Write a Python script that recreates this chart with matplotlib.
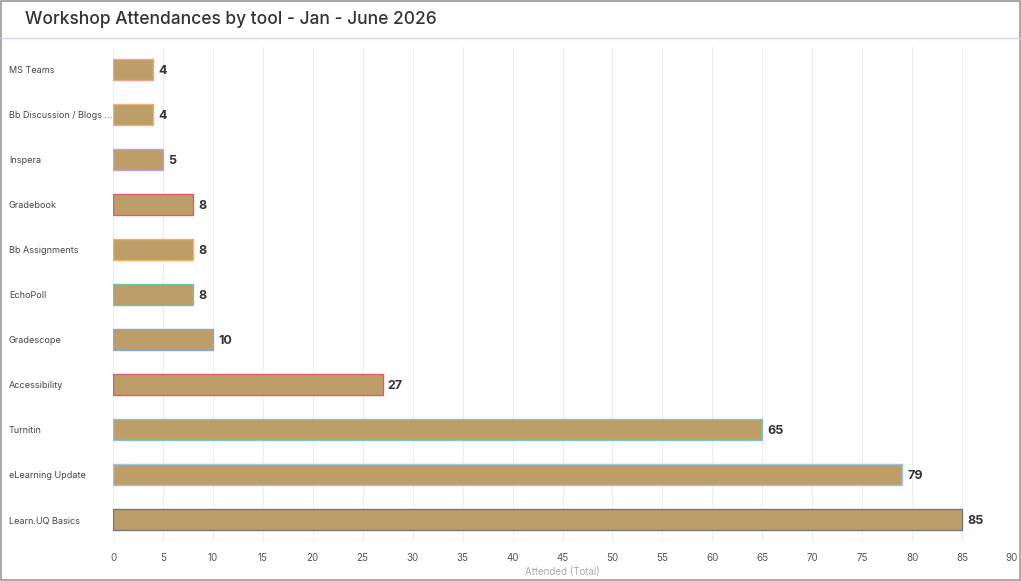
import matplotlib
matplotlib.use("Agg")
import matplotlib.pyplot as plt
from matplotlib.patches import Rectangle
from matplotlib.lines import Line2D

TOOLS = ["MS Teams", "Bb Discussion / Blogs ...", "Inspera", "Gradebook", "Bb Assignments",
         "EchoPoll", "Gradescope", "Accessibility", "Turnitin", "eLearning Update", "Learn.UQ Basics"]
ATTENDED = [4, 4, 5, 8, 8, 8, 10, 27, 65, 79, 85]
EDGE_COLORS = ["#f4a08a", "#e8b56a", "#b9a3e3", "#e05a6a", "#f0b060", "#6cc7a0",
               "#8aa4d8", "#e05a6a", "#7fc8c8", "#9cc4e8", "#777777"]
BAR_COLOR = "#be9e68"

plt.rcParams["font.family"] = ["Inter", "DejaVu Sans"]

fig = plt.figure(figsize=(10.21, 5.81), dpi=100)
fig.patches.append(Rectangle((0.001, 0.001), 0.998, 0.997, transform=fig.transFigure,
                             fill=False, edgecolor="#9a9a9a", lw=1.2))
fig.lines.append(Line2D([0.001, 0.999], [1 - 38 / 581] * 2, transform=fig.transFigure,
                        color="#d4d8e4", lw=1))
fig.text(25 / 1021, 1 - 19 / 581, "Workshop Attendances by tool - Jan - June 2026",
         fontsize=12.5, fontweight="medium", color="#333333", va="center")

ax = fig.add_axes([113 / 1021, 1 - 542 / 581, 899 / 1021, 495 / 581])
ys = list(range(len(TOOLS)))
ax.barh(ys, ATTENDED, height=0.46, color=BAR_COLOR, edgecolor=EDGE_COLORS, linewidth=1)
for y, v in zip(ys, ATTENDED):
    ax.text(v + 0.5, y + 0.03, str(v), va="center", ha="left", fontsize=9, fontweight="bold", color="#333333")

ax.set_xlim(0, 90)
ax.set_ylim(len(TOOLS) - 0.5, -0.5)
ax.set_xticks(range(0, 91, 5))
ax.set_yticks(ys)
ax.set_yticklabels(TOOLS, fontsize=6.5, color="#444444", ha="left")
ax.tick_params(axis="y", length=0, pad=75)
ax.tick_params(axis="x", length=0, labelsize=7, colors="#555555", pad=8)
ax.xaxis.grid(True, color="#eeeeee", lw=0.8)
ax.set_axisbelow(True)
for s in ax.spines.values():
    s.set_visible(False)
ax.set_xlabel("Attended (Total)", fontsize=7, color="#aaaaaa", labelpad=3)

fig.savefig("out.png", dpi=100)
